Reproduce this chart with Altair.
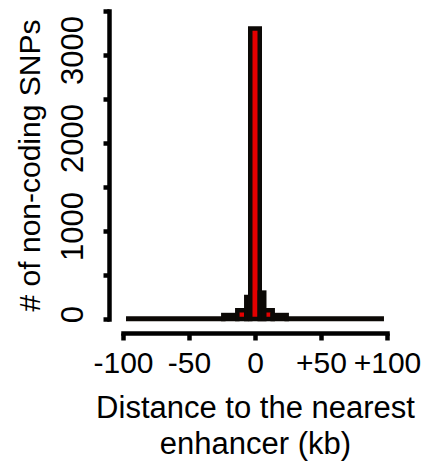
import altair as alt
import pandas as pd

# Histogram bins (kb) and counts
bin_start = [-96, -24, -13.4, -6.6, -3.6, 3.6, 7.0, 13.4, 24]
bin_end = [-24, -13.4, -6.6, -3.6, 3.6, 7.0, 13.4, 24, 96]
snp_counts = [5, 45, 100, 250, 3300, 300, 100, 45, 5]

x_ticks = [-100, -50, 0, 50, 100]
y_ticks = [0, 500, 1000, 1500, 2000, 2500, 3000, 3500]

df = pd.DataFrame({"start": bin_start, "end": bin_end, "count": snp_counts})

FONT = "Liberation Sans"

chart = (
    alt.Chart(df)
    .mark_rect(fill="#e40000", stroke="#0c0906", strokeWidth=4.5, strokeJoin="miter")
    .encode(
        x=alt.X(
            "start:Q",
            scale=alt.Scale(domain=[-100, 100], nice=False, zero=False),
            axis=alt.Axis(
                values=x_ticks,
                labelExpr="datum.value > 0 ? '+' + datum.value : '' + datum.value",
                offset=14,
                domainColor="black",
                domainWidth=4.5,
                domainCap="square",
                tickColor="black",
                tickWidth=4.5,
                tickSize=7,
                labelFont=FONT,
                labelFontSize=30,
                labelColor="black",
                labelPadding=8,
                labelFlush=False,
                grid=False,
                title=["Distance to the nearest", "enhancer (kb)"],
                titleFont=FONT,
                titleFontSize=31,
                titleFontWeight="normal",
                titleColor="black",
                titleLineHeight=36,
                titlePadding=15,
            ),
        ),
        x2="end:Q",
        y=alt.Y(
            "count:Q",
            scale=alt.Scale(domain=[0, 3500], nice=False),
            axis=alt.Axis(
                values=y_ticks,
                labelExpr="datum.value % 1000 == 0 ? '' + datum.value : ''",
                labelAngle=270,
                labelOffset=-5,
                offset=14,
                domainColor="black",
                domainWidth=4.5,
                domainCap="square",
                tickColor="black",
                tickWidth=4.5,
                tickSize=6,
                labelFont=FONT,
                labelFontSize=31,
                labelColor="black",
                labelPadding=14,
                grid=False,
                title="# of non-coding SNPs",
                titleFont=FONT,
                titleFontSize=30,
                titleFontWeight="normal",
                titleColor="black",
                titlePadding=12,
            ),
        ),
        y2=alt.datum(0),
    )
    .properties(
        width=264,
        height=308,
        padding={"left": 115, "top": 3, "right": 41, "bottom": 143},
        autosize=alt.AutoSizeParams(type="none"),
    )
    .configure_view(stroke=None)
)

chart.save("out.html", embed_options={"renderer": "svg", "actions": False})
